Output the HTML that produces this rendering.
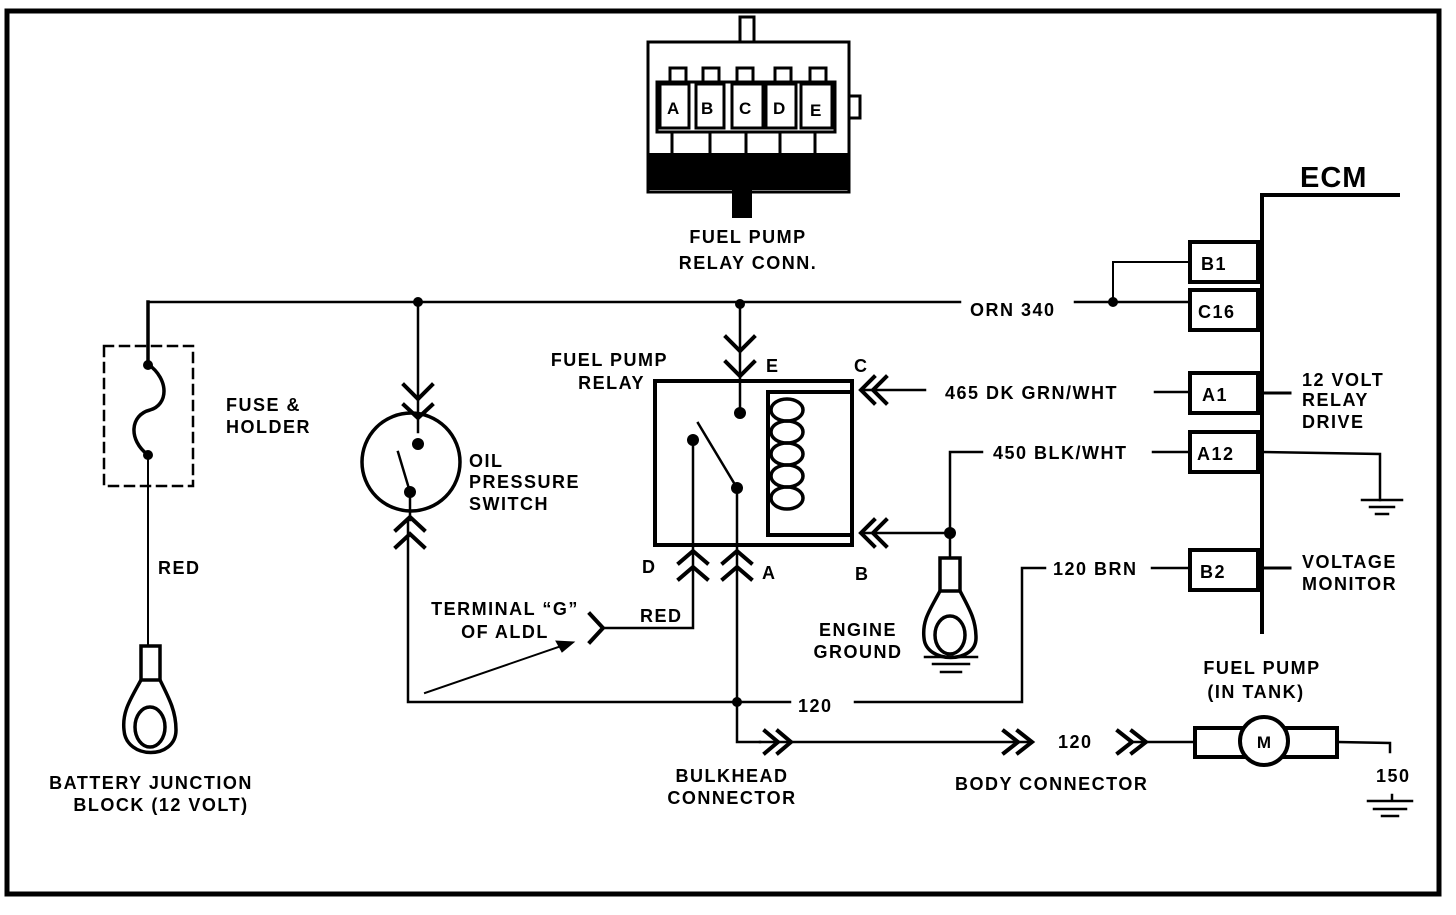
<!DOCTYPE html>
<html><head><meta charset="utf-8"><style>
html,body{margin:0;padding:0;background:#fff;}
svg text{font-family:"Liberation Sans",sans-serif;font-weight:bold;font-size:18px;letter-spacing:1.5px;fill:#000;}
</style></head><body>
<svg width="1456" height="910" viewBox="0 0 1456 910" xmlns="http://www.w3.org/2000/svg">
<g fill="none" stroke="#000" stroke-linecap="square">
<rect x="7" y="11" width="1432" height="883" stroke-width="5"/>

<rect x="740" y="17" width="14" height="25" stroke-width="3" fill="#fff"/>
<rect x="849" y="96" width="11" height="22" stroke-width="3" fill="#fff"/>
<rect x="648" y="42" width="201" height="150" stroke-width="3" fill="#fff"/>
<g stroke-width="3">
<rect x="670" y="68" width="16" height="14"/><rect x="703" y="68" width="16" height="14"/><rect x="737" y="68" width="16" height="14"/><rect x="775" y="68" width="16" height="14"/><rect x="810" y="68" width="16" height="14"/>
<rect x="657" y="82" width="178" height="50"/>
<rect x="660" y="84" width="29" height="44" fill="#fff"/><rect x="696" y="84" width="28" height="44" fill="#fff"/><rect x="732" y="84" width="31" height="44" fill="#fff"/><rect x="766" y="84" width="30" height="44" fill="#fff"/><rect x="801" y="84" width="31" height="44" fill="#fff"/>
<path d="M672 132V152M710 132V152M746 132V152M780 132V152M815 132V152"/>
</g>
<rect x="647" y="153" width="203" height="37" fill="#000" stroke="none"/>
<rect x="732" y="188" width="20" height="30" fill="#000" stroke="none"/>

<path d="M148 302H960M1075 302H1190" stroke-width="2.5"/>
<path d="M1113 302V262H1190" stroke-width="2"/>

<path d="M1262 632V195H1398" stroke-width="4"/>
<g stroke-width="4" fill="#fff">
<rect x="1190" y="242" width="68" height="40"/><rect x="1190" y="290" width="68" height="40"/>
<rect x="1190" y="373" width="68" height="40"/><rect x="1190" y="432" width="68" height="40"/>
<rect x="1190" y="550" width="68" height="40"/>
</g>
<path d="M1262 393H1290M1262 568H1290" stroke-width="3"/>
<path d="M1262 452L1380 454V500" stroke-width="2.5"/>
<path d="M1362 500H1402M1370 507H1394M1376 514H1388" stroke-width="2.5"/>

<path d="M862 390H925M1155 392H1190" stroke-width="2.5"/>
<path d="M982 452H950V558M862 533H950M1153 452H1190" stroke-width="2.5"/>
<path d="M1045 568H1022V702H855M1152 568H1190" stroke-width="2.5"/>
<path d="M408 520V702H790" stroke-width="2.5"/>

<rect x="104" y="346" width="89" height="140" stroke-width="2.5" stroke-dasharray="9,7"/>
<path d="M148 302V364C170 380 168 405 150 410C130 415 128 440 148 455" stroke-width="3.5"/>
<path d="M148 455V645" stroke-width="2"/>

<rect x="141" y="646" width="19" height="34" stroke-width="3.5"/>
<path d="M141 680C130 700 122 712 124 730C126 760 176 760 176 730C176 712 170 700 160 680" stroke-width="3.5"/>
<ellipse cx="150" cy="727" rx="15" ry="20" stroke-width="3.5"/>

<path d="M418 302V432" stroke-width="2.5"/>
<circle cx="411" cy="462" r="49" stroke-width="3.5"/>
<path d="M404 385L418 399L432 385M404 405L418 418L432 405" stroke-width="4"/>
<path d="M398 452L410 492V520" stroke-width="2.5"/>
<path d="M396 530L410 517L424 530M396 547L410 534L424 547" stroke-width="4"/>

<path d="M740 302V413" stroke-width="2.5"/>
<path d="M726 337L740 351L754 337M726 362L740 376L754 362" stroke-width="4"/>
<rect x="655" y="381" width="197" height="164" stroke-width="4"/>
<path d="M852 392H768V535H852" stroke-width="4"/>
<g stroke-width="3.5">
<ellipse cx="787" cy="410" rx="16" ry="11"/><ellipse cx="787" cy="432" rx="16" ry="11"/><ellipse cx="787" cy="454" rx="16" ry="11"/><ellipse cx="787" cy="476" rx="16" ry="11"/><ellipse cx="787" cy="498" rx="16" ry="11"/>
</g>
<path d="M693 440V628H602M698 423L737 488V742H760" stroke-width="2.5"/>
<path d="M679 563L693 551L707 563M679 579L693 567L707 579" stroke-width="4"/>
<path d="M723 563L737 551L751 563M723 579L737 567L751 579" stroke-width="4"/>
<path d="M874 377L861 390L874 403M886 377L873 390L886 403" stroke-width="4"/>
<path d="M874 520L861 533L874 546M886 520L873 533L886 546" stroke-width="4"/>
<path d="M590 614L603 628L590 642" stroke-width="4"/>
<path d="M425 693L570 643" stroke-width="2"/>
<path d="M574 642L556 641L562 652Z" fill="#000" stroke-width="1"/>

<rect x="940" y="558" width="20" height="33" stroke-width="3.5"/>
<path d="M940 591C930 610 922 620 924 638C926 664 976 664 976 638C976 620 970 610 960 591" stroke-width="3.5"/>
<ellipse cx="950" cy="635" rx="15" ry="19" stroke-width="3.5"/>
<path d="M925 657H977M933 664H969M941 672H961" stroke-width="2.5"/>

<path d="M760 742H1030M1135 742H1195" stroke-width="2.5"/>
<path d="M765 731L778 742L765 753M778 731L791 742L778 753" stroke-width="4"/>
<path d="M1004 731L1018 742L1004 753M1018 731L1032 742L1018 753" stroke-width="4"/>
<path d="M1118 731L1132 742L1118 753M1132 731L1146 742L1132 753" stroke-width="4"/>

<rect x="1195" y="728" width="57" height="29" stroke-width="4"/>
<rect x="1275" y="728" width="62" height="29" stroke-width="4"/>
<circle cx="1264" cy="741" r="24" stroke-width="4" fill="#fff"/>
<path d="M1338 742L1390 743V752" stroke-width="2.5"/>
<path d="M1392 795V801M1368 801H1412M1374 809H1406M1382 816H1398" stroke-width="2.5"/>
</g>
<g fill="#000">
<circle cx="418" cy="302" r="5"/><circle cx="740" cy="304" r="5"/><circle cx="1113" cy="302" r="5"/>
<circle cx="148" cy="365" r="5"/><circle cx="148" cy="455" r="5"/>
<circle cx="418" cy="444" r="6"/><circle cx="410" cy="492" r="6"/>
<circle cx="740" cy="413" r="6"/><circle cx="693" cy="440" r="6"/><circle cx="737" cy="488" r="6"/>
<circle cx="950" cy="533" r="6"/><circle cx="737" cy="702" r="5"/>
</g>

<text x="667" y="114" style="font-size:17px;letter-spacing:0">A</text><text x="701" y="114" style="font-size:17px;letter-spacing:0">B</text><text x="739" y="114" style="font-size:17px;letter-spacing:0">C</text><text x="773" y="114" style="font-size:17px;letter-spacing:0">D</text><text x="810" y="116" style="font-size:17px;letter-spacing:0">E</text>
<text x="748" y="243" text-anchor="middle">FUEL PUMP</text>
<text x="748" y="269" text-anchor="middle">RELAY CONN.</text>
<text x="1300" y="187" style="font-size:29px;letter-spacing:1px">ECM</text>
<text x="1201" y="270">B1</text><text x="1198" y="318">C16</text><text x="1202" y="401">A1</text><text x="1197" y="460">A12</text><text x="1200" y="578">B2</text>
<text x="970" y="316">ORN 340</text>
<text x="945" y="399">465 DK GRN/WHT</text>
<text x="993" y="459">450 BLK/WHT</text>
<text x="1053" y="575">120 BRN</text>
<text x="1302" y="386">12 VOLT</text><text x="1302" y="406">RELAY</text><text x="1302" y="428">DRIVE</text>
<text x="1302" y="568">VOLTAGE</text><text x="1302" y="590">MONITOR</text>
<text x="226" y="411">FUSE &amp;</text><text x="226" y="433">HOLDER</text>
<text x="158" y="574">RED</text>
<text x="151" y="789" text-anchor="middle">BATTERY JUNCTION</text><text x="161" y="811" text-anchor="middle">BLOCK (12 VOLT)</text>
<text x="469" y="467">OIL</text><text x="469" y="488">PRESSURE</text><text x="469" y="510">SWITCH</text>
<text x="668" y="366" text-anchor="end">FUEL PUMP</text><text x="645" y="389" text-anchor="end">RELAY</text>
<text x="766" y="372">E</text><text x="854" y="372">C</text>
<text x="642" y="573">D</text><text x="762" y="579">A</text><text x="855" y="580">B</text>
<text x="505" y="615" text-anchor="middle">TERMINAL “G”</text><text x="505" y="638" text-anchor="middle">OF ALDL</text>
<text x="640" y="622">RED</text>
<text x="858" y="636" text-anchor="middle">ENGINE</text><text x="858" y="658" text-anchor="middle">GROUND</text>
<text x="798" y="712">120</text>
<text x="732" y="782" text-anchor="middle">BULKHEAD</text><text x="732" y="804" text-anchor="middle">CONNECTOR</text>
<text x="955" y="790">BODY CONNECTOR</text>
<text x="1058" y="748">120</text>
<text x="1262" y="674" text-anchor="middle">FUEL PUMP</text><text x="1256" y="698" text-anchor="middle">(IN TANK)</text>
<text x="1264" y="748" text-anchor="middle" style="font-size:17px;letter-spacing:0">M</text>
<text x="1376" y="782">150</text>
</svg>
</body></html>
